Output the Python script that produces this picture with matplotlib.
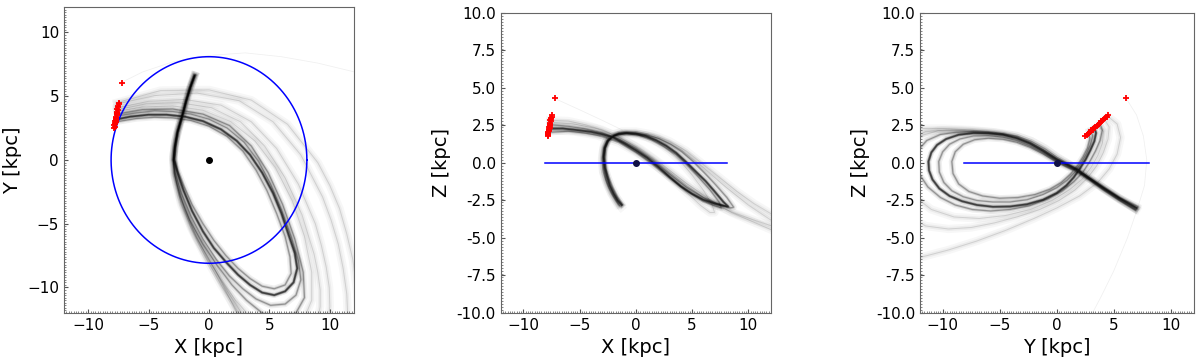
import numpy as np
import matplotlib
matplotlib.use("Agg")
import matplotlib.pyplot as plt
from matplotlib.ticker import MultipleLocator, FormatStrFormatter

# ---------- orbit tracks (kpc) ----------
# X-Y plane
xy_core = [(-7.6,3.2), (-6.5,3.4), (-5.0,3.55), (-3.5,3.55), (-2.0,3.4), (-0.5,3.05), (1.0,2.4),
           (2.3,1.5), (3.4,0.4), (4.4,-1.0), (5.3,-2.6), (6.0,-4.2), (6.6,-5.9), (7.1,-7.3),
           (7.3,-8.5), (7.0,-9.6), (6.3,-10.3), (5.4,-10.6), (4.4,-10.4), (3.4,-9.8), (2.4,-9.0),
           (1.4,-8.0), (0.4,-6.9), (-0.5,-5.6), (-1.4,-4.0), (-2.1,-2.4), (-2.6,-1.0), (-2.9,0.0),
           (-2.8,1.0), (-2.6,2.2), (-2.2,3.5), (-1.9,4.6), (-1.55,5.7), (-1.2,6.6)]
xy_in_a = [(-7.6,3.0), (-6.0,3.25), (-4.5,3.35), (-3.0,3.3), (-1.5,3.1), (0.0,2.65), (1.5,1.85),
           (2.8,0.7), (3.9,-0.8), (4.8,-2.4), (5.6,-4.2), (6.3,-6.0), (6.7,-7.6), (6.8,-8.9),
           (6.3,-9.8), (5.4,-10.1), (4.4,-9.9), (3.4,-9.3), (2.4,-8.5), (1.4,-7.5), (0.4,-6.3),
           (-0.5,-5.0), (-1.4,-3.5), (-2.1,-2.0), (-2.6,-0.8), (-2.85,0.1), (-2.8,1.0), (-2.6,2.2),
           (-2.2,3.5), (-1.9,4.6), (-1.55,5.7), (-1.25,6.5)]
xy_in_b = [(-7.6,3.45), (-6.0,3.7), (-4.5,3.85), (-3.0,3.8), (-1.5,3.6), (0.0,3.2), (1.5,2.5),
           (2.9,1.4), (4.1,-0.1), (5.1,-1.9), (6.0,-3.9), (6.8,-6.0), (7.4,-7.9), (7.6,-9.4),
           (7.2,-10.6), (6.3,-11.3), (5.1,-11.4), (3.9,-10.9), (2.8,-10.1), (1.7,-9.1), (0.6,-7.8),
           (-0.5,-6.2), (-1.5,-4.4), (-2.3,-2.6), (-2.8,-1.0), (-2.95,0.0), (-2.85,1.0), (-2.6,2.2),
           (-2.2,3.5), (-1.9,4.6), (-1.55,5.7), (-1.15,6.7)]
xy_mid_a = [(-7.6,3.6), (-5.5,3.95), (-3.0,4.0), (-0.5,3.6), (1.7,2.7), (3.5,1.1), (4.9,-1.0),
            (6.1,-3.5), (7.1,-6.2), (7.8,-8.8), (7.9,-10.8), (7.2,-12.0), (5.9,-12.4), (4.4,-12.0),
            (3.1,-11.0), (1.9,-9.8), (0.7,-8.3), (-0.5,-6.6), (-1.6,-4.7), (-2.4,-2.8), (-2.85,-1.1),
            (-2.95,0.0), (-2.85,1.0), (-2.6,2.2), (-2.2,3.5), (-1.9,4.6), (-1.55,5.7), (-1.2,6.6)]
xy_out_a = [(-7.6,3.8), (-5.5,4.15), (-3.0,4.25), (-0.5,3.9), (1.8,3.0), (3.8,1.5), (5.5,-0.6),
            (6.9,-3.2), (7.9,-6.0), (8.5,-8.8), (8.5,-11.0), (7.8,-12.6), (6.5,-13.4), (4.9,-13.3),
            (3.5,-12.4), (2.2,-11.0), (1.0,-9.4), (-0.2,-7.6), (-1.3,-5.5), (-2.2,-3.3), (-2.8,-1.3),
            (-2.95,0.0), (-2.85,1.0), (-2.6,2.2), (-2.2,3.5), (-1.9,4.6), (-1.55,5.7), (-1.2,6.6)]
xy_mid_b = [(-7.6,3.95), (-5.2,4.4), (-2.5,4.5), (0.2,4.1), (2.6,3.0), (4.6,1.1), (6.3,-1.4),
            (7.7,-4.3), (8.7,-7.4), (9.0,-8.8), (9.2,-10.2), (9.2,-11.5), (9.0,-12.6), (7.9,-14.3),
            (6.0,-14.6), (4.3,-13.8), (2.9,-12.3), (1.6,-10.4), (0.3,-8.3), (-1.0,-6.1), (-2.0,-3.9),
            (-2.7,-1.8), (-2.95,0.0), (-2.8,1.4), (-2.45,2.8), (-2.05,4.1), (-1.6,5.5), (-1.2,6.6)]
xy_out_b = [(-7.6,4.1), (-5.0,4.6), (-2.0,4.75), (1.0,4.3), (3.5,3.0), (5.6,0.9), (7.4,-1.9),
            (8.8,-5.0), (9.3,-6.7), (9.7,-8.4), (9.95,-10.0), (10.0,-11.5), (9.85,-12.8), (9.4,-14.0),
            (7.6,-15.4), (5.3,-15.2), (3.6,-13.8), (2.3,-11.8), (1.0,-9.8), (-0.3,-7.6), (-1.5,-5.3),
            (-2.4,-3.0), (-2.9,-1.0), (-2.95,0.3), (-2.75,1.6), (-2.4,2.9), (-2.0,4.2), (-1.6,5.5),
            (-1.2,6.6)]
xy_out_c = [(-7.6,4.4), (-4.5,5.05), (-1.0,5.25), (2.5,4.65), (5.3,3.0), (7.6,0.4), (9.4,-2.9),
            (10.1,-4.7), (10.7,-6.6), (11.1,-8.5), (11.4,-10.5), (11.5,-12.5), (11.3,-14.5),
            (9.0,-17.0), (5.5,-16.5), (3.3,-14.0), (2.0,-11.4), (0.5,-8.6), (-1.1,-6.0), (-2.3,-3.5),
            (-2.9,-1.0), (-2.95,0.3), (-2.75,1.6), (-2.4,2.9), (-2.0,4.2), (-1.6,5.5), (-1.2,6.6)]
xy_out_d = [(-7.6,4.5), (-4.0,5.45), (0.0,5.5), (3.5,4.7), (6.5,2.8), (9.0,-0.2), (10.0,-2.0),
            (10.8,-3.8), (11.4,-5.8), (11.9,-7.8), (12.2,-9.9), (12.4,-12.0), (12.3,-16.0)]
xy_stray = [(-7.2,6.1), (-5.5,6.9), (-3.0,7.7), (0.0,8.2), (3.0,8.4), (6.0,8.1), (9.0,7.6), (12.5,6.8)]

# X-Z plane
xz_core = [(-7.6,2.3), (-6.5,2.3), (-5.5,2.22), (-4.0,2.08), (-3.0,1.92), (-2.0,1.7), (-1.0,1.3),
           (0.0,0.85), (1.0,0.35), (2.0,-0.25), (3.0,-0.92), (4.0,-1.55), (5.0,-2.05), (6.0,-2.45),
           (7.0,-2.7), (7.8,-2.85), (8.2,-2.9), (7.8,-2.6), (6.9,-1.8), (6.2,-1.2), (5.4,-0.62),
           (4.5,0.05), (3.6,0.67), (2.7,1.15), (1.8,1.52), (0.9,1.8), (0.0,1.95), (-0.8,2.0),
           (-1.5,1.95), (-2.1,1.75), (-2.5,1.45), (-2.75,1.0), (-2.85,0.4), (-2.75,-0.3),
           (-2.55,-0.9), (-2.3,-1.5), (-1.95,-2.05), (-1.6,-2.5), (-1.25,-2.8)]
xz_in_a = [(-7.6,2.55), (-6.0,2.45), (-4.5,2.28), (-3.0,2.02), (-1.5,1.6), (0.0,0.98), (1.5,0.2),
           (3.0,-0.72), (4.5,-1.6), (6.0,-2.3), (7.2,-2.7), (8.4,-3.0), (8.7,-2.95), (8.1,-2.3),
           (7.1,-1.45), (6.1,-0.65), (5.1,0.1), (4.1,0.75), (3.1,1.25), (2.1,1.62), (1.0,1.88),
           (0.0,2.0), (-1.0,2.02), (-1.9,1.87), (-2.5,1.5), (-2.8,1.0), (-2.9,0.3), (-2.85,-0.4),
           (-2.65,-1.1), (-2.35,-1.7), (-1.95,-2.25), (-1.45,-2.85)]
xz_in_b = [(-7.6,2.05), (-6.0,2.12), (-4.5,2.0), (-3.0,1.8), (-1.5,1.42), (0.0,0.72), (1.5,-0.08),
           (3.0,-1.0), (4.5,-1.85), (6.0,-2.55), (7.0,-2.85), (7.6,-3.0), (7.4,-2.6), (6.6,-1.8),
           (5.6,-0.95), (4.6,-0.15), (3.6,0.55), (2.5,1.1), (1.4,1.55), (0.3,1.85), (-0.8,1.95),
           (-1.8,1.85), (-2.4,1.5), (-2.7,1.0), (-2.75,0.3), (-2.65,-0.4), (-2.4,-1.0),
           (-2.05,-1.65), (-1.65,-2.25), (-1.2,-2.75)]
xz_out_a = [(-7.6,2.85), (-6.0,2.8), (-4.5,2.55), (-3.0,2.22), (-1.5,1.72), (0.0,1.08), (1.5,0.3),
            (3.0,-0.6), (4.5,-1.5), (6.0,-2.3), (7.5,-2.95), (9.0,-3.4), (10.5,-3.8), (12.5,-4.3),
            (13.5,-4.2), (12.5,-3.6), (10.5,-2.7), (9.0,-1.9), (7.5,-1.0), (6.0,-0.1), (4.5,0.8),
            (3.0,1.45), (1.5,1.9), (0.0,2.1), (-1.2,2.1), (-2.1,1.9), (-2.6,1.5), (-2.9,0.9),
            (-3.0,0.2), (-2.9,-0.6), (-2.6,-1.3), (-2.2,-2.0), (-1.7,-2.6), (-1.3,-2.95)]
xz_out_b = [(-7.6,2.7), (-5.5,2.6), (-3.5,2.3), (-1.5,1.75), (0.5,0.9), (2.5,-0.2), (4.5,-1.35),
            (6.5,-2.4), (8.5,-3.3), (10.5,-3.95), (12.5,-4.6), (13.5,-4.6), (12.0,-3.8), (10.0,-2.8),
            (8.0,-1.6), (6.0,-0.3), (4.0,0.9), (2.0,1.65), (0.0,2.0), (-1.5,2.0), (-2.4,1.7),
            (-2.85,1.1), (-3.0,0.3), (-2.9,-0.6), (-2.55,-1.4), (-2.1,-2.1), (-1.6,-2.75)]
xz_out_c = [(-7.6,2.2), (-5.5,2.1), (-3.5,1.85), (-1.5,1.35), (0.5,0.5), (2.5,-0.6), (4.5,-1.95),
            (5.8,-2.85), (6.6,-3.3), (7.0,-3.3), (6.8,-2.8), (6.0,-1.8), (5.0,-0.8), (4.0,0.1),
            (3.0,0.8), (2.0,1.35), (1.0,1.7), (0.0,1.9), (-1.0,1.95), (-2.0,1.8), (-2.6,1.4),
            (-2.85,0.8), (-2.9,0.1), (-2.75,-0.7), (-2.45,-1.4), (-2.0,-2.1), (-1.5,-2.7)]
xz_stray = [(-7.2,4.3), (-5.0,3.55), (-3.0,2.85), (-1.2,2.2)]

# Y-Z plane
yz_core = [(3.3,2.35), (3.45,2.0), (3.3,1.45), (2.95,0.85), (2.55,0.25), (2.05,-0.35), (1.5,-0.95),
           (0.85,-1.5), (0.0,-2.0), (-1.2,-2.45), (-2.6,-2.75), (-4.1,-2.9), (-5.6,-2.92),
           (-7.0,-2.8), (-8.3,-2.55), (-9.4,-2.2), (-10.3,-1.7), (-10.9,-1.1), (-11.2,-0.5),
           (-11.25,0.1), (-11.0,0.7), (-10.5,1.2), (-9.7,1.6), (-8.6,1.88), (-7.3,2.0), (-6.0,1.98),
           (-4.7,1.88), (-3.5,1.65), (-2.35,1.3), (-1.2,0.8), (0.0,0.22), (0.9,-0.12), (1.8,-0.48),
           (2.9,-1.05), (4.1,-1.67), (5.5,-2.35), (7.0,-3.0)]
yz_in_a = [(3.0,2.2), (3.15,1.8), (2.95,1.2), (2.6,0.6), (2.15,0.0), (1.6,-0.6), (0.9,-1.15),
           (0.0,-1.65), (-1.2,-2.1), (-2.6,-2.45), (-4.1,-2.6), (-5.6,-2.6), (-7.0,-2.5),
           (-8.2,-2.25), (-9.2,-1.85), (-9.9,-1.3), (-10.3,-0.6), (-10.35,0.1), (-10.0,0.75),
           (-9.4,1.25), (-8.5,1.6), (-7.3,1.8), (-6.0,1.82), (-4.7,1.72), (-3.5,1.5), (-2.35,1.15),
           (-1.2,0.68), (0.0,0.12), (0.9,-0.22), (1.8,-0.55), (2.9,-1.1), (4.1,-1.75), (5.5,-2.45),
           (6.9,-3.1)]
yz_in_b = [(3.8,2.6), (4.0,2.2), (3.8,1.5), (3.4,0.8), (2.9,0.1), (2.3,-0.6), (1.5,-1.25),
           (0.5,-1.85), (-0.8,-2.4), (-2.4,-2.85), (-4.1,-3.1), (-5.8,-3.2), (-7.4,-3.1),
           (-8.9,-2.8), (-10.2,-2.3), (-11.3,-1.6), (-12.0,-0.8), (-12.3,0.1), (-12.1,0.9),
           (-11.4,1.5), (-10.2,1.9), (-8.8,2.05), (-7.3,2.1), (-6.0,2.05), (-4.7,1.95), (-3.5,1.75),
           (-2.35,1.4), (-1.2,0.9), (0.0,0.3), (0.9,-0.05), (1.8,-0.4), (2.9,-1.0), (4.1,-1.6),
           (5.5,-2.3), (7.1,-2.9)]
yz_in_c = [(2.8,2.1), (2.9,1.6), (2.7,1.0), (2.3,0.4), (1.8,-0.2), (1.2,-0.75), (0.4,-1.3),
           (-0.6,-1.75), (-1.9,-2.1), (-3.4,-2.3), (-5.0,-2.35), (-6.5,-2.2), (-7.7,-1.9),
           (-8.6,-1.4), (-9.1,-0.7), (-9.2,0.1), (-8.9,0.75), (-8.2,1.25), (-7.2,1.55), (-6.0,1.65),
           (-4.7,1.58), (-3.5,1.38), (-2.35,1.05), (-1.2,0.6), (0.0,0.05), (0.9,-0.28), (1.8,-0.6),
           (2.9,-1.15), (4.1,-1.8), (5.5,-2.5), (6.9,-3.15)]
yz_out_a = [(4.2,2.9), (4.6,2.4), (4.5,1.6), (4.1,0.7), (3.5,-0.2), (2.7,-1.0), (1.6,-1.8),
            (0.2,-2.5), (-1.5,-3.1), (-3.5,-3.6), (-5.5,-4.0), (-7.5,-4.3), (-9.5,-4.4),
            (-11.5,-4.2), (-13.0,-3.5), (-14.0,-2.0), (-14.0,0.0), (-13.0,1.5), (-11.5,2.1),
            (-9.5,2.2), (-7.5,2.15), (-5.5,2.05), (-3.5,1.8), (-2.2,1.45), (-1.0,0.95), (0.0,0.4),
            (1.0,-0.05), (2.0,-0.5), (3.0,-1.05), (4.2,-1.7), (5.6,-2.4), (7.0,-3.0)]
yz_out_b = [(4.5,3.1), (5.3,2.6), (5.6,1.7), (5.3,0.6), (4.6,-0.4), (3.6,-1.3), (2.0,-2.2),
            (0.0,-3.0), (-2.0,-3.7), (-4.5,-4.5), (-7.0,-5.2), (-9.5,-5.8), (-12.0,-6.3),
            (-14.5,-6.0), (-16.0,-3.0), (-15.0,1.0), (-12.5,2.3), (-10.0,2.3), (-7.5,2.2),
            (-5.5,2.05), (-3.5,1.8), (-2.2,1.45), (-1.0,0.95), (0.0,0.4), (1.0,-0.05), (2.0,-0.5),
            (3.0,-1.05), (4.2,-1.7), (5.6,-2.4), (6.9,-3.05)]
yz_out_c = [(3.6,2.5), (4.1,2.1), (4.0,1.3), (3.6,0.5), (3.0,-0.3), (2.2,-1.1), (1.1,-1.8),
            (-0.4,-2.5), (-2.3,-3.1), (-4.5,-3.5), (-6.8,-3.7), (-9.0,-3.6), (-11.0,-3.1),
            (-12.5,-2.2), (-13.3,-0.8), (-13.0,0.8), (-12.0,1.8), (-10.4,2.15), (-8.5,2.15),
            (-6.5,2.05), (-4.7,1.9), (-3.4,1.65), (-2.2,1.3), (-1.0,0.8), (0.0,0.3), (1.0,-0.1),
            (2.0,-0.55), (3.0,-1.1), (4.2,-1.75), (5.6,-2.45), (7.0,-3.1)]
yz_stray = [(6.1,4.3), (7.0,3.2), (7.6,1.8), (7.9,0.2), (7.7,-1.5), (7.1,-3.0), (6.2,-5.0),
            (5.0,-7.2), (3.9,-8.9), (3.0,-10.2)]

# starting positions (red crosses)
start_x = [-7.83, -7.80, -7.82, -7.76, -7.79, -7.73, -7.75, -7.70, -7.72, -7.66, -7.68,
           -7.63, -7.65, -7.60, -7.62, -7.56, -7.58, -7.53, -7.50, -7.47, -7.42, -7.17]
start_y = [2.50, 2.62, 2.71, 2.80, 2.88, 2.97, 3.05, 3.14, 3.22, 3.31, 3.40,
           3.50, 3.60, 3.70, 3.80, 3.92, 4.02, 4.13, 4.25, 4.37, 4.50, 6.05]
start_z = [1.80, 1.88, 1.93, 2.00, 2.05, 2.12, 2.17, 2.23, 2.29, 2.35, 2.41,
           2.49, 2.55, 2.62, 2.69, 2.78, 2.84, 2.92, 3.00, 3.09, 3.20, 4.35]

R_SUN = 8.1

plt.rcParams['font.family'] = 'DejaVu Sans'
fig = plt.figure(figsize=(12, 3.6), dpi=100)
ax1 = fig.add_axes([0.0533, 0.1306, 0.2417, 0.85])
ax2 = fig.add_axes([0.4173, 0.1306, 0.2250, 0.8333])
ax3 = fig.add_axes([0.7666, 0.1306, 0.2280, 0.8333])


def soft_line(ax, tr, widths, alphas):
    a = np.array(tr)
    for w, al in zip(widths, alphas):
        ax.plot(a[:, 0], a[:, 1], color='k', lw=w, alpha=al, solid_joinstyle='round')


def draw_tracks(ax, core, inner, outer, stray):
    for tr in outer:
        soft_line(ax, tr, [6, 3, 0.7], [0.03, 0.045, 0.12])
    for tr in inner:
        soft_line(ax, tr, [4.5, 2.2, 0.9], [0.06, 0.12, 0.3])
    soft_line(ax, core, [4, 2.2, 1.2], [0.1, 0.3, 0.6])
    soft_line(ax, stray, [0.6], [0.06])


# X-Y
draw_tracks(ax1, xy_core, [xy_in_a, xy_in_b, xy_mid_a],
            [xy_out_a, xy_mid_b, xy_out_b, xy_out_c, xy_out_d], xy_stray)
theta = np.linspace(0, 2 * np.pi, 300)
ax1.plot(R_SUN * np.cos(theta), R_SUN * np.sin(theta), color='blue', lw=1.1)
ax1.plot(start_x, start_y, '+', color='red', ms=5, mew=1.3)
ax1.plot([0], [0], 'o', color='k', ms=4)
ax1.set_xlim(-12, 12)
ax1.set_ylim(-12, 12)
ax1.set_xticks([-10, -5, 0, 5, 10])
ax1.set_yticks([-10, -5, 0, 5, 10])
ax1.set_xlabel('X [kpc]')
ax1.set_ylabel('Y [kpc]')

# X-Z
draw_tracks(ax2, xz_core, [xz_in_a, xz_in_b], [xz_out_a, xz_out_b, xz_out_c], xz_stray)
ax2.plot([-R_SUN, R_SUN], [0, 0], color='blue', lw=1.1)
ax2.plot(start_x, start_z, '+', color='red', ms=5, mew=1.3)
ax2.plot([0], [0], 'o', color='#111144', ms=4)
ax2.set_xlim(-12, 12)
ax2.set_ylim(-10, 10)
ax2.set_xlabel('X [kpc]')
ax2.set_ylabel('Z [kpc]')

# Y-Z
draw_tracks(ax3, yz_core, [yz_in_a, yz_in_b, yz_in_c], [yz_out_a, yz_out_b, yz_out_c], yz_stray)
ax3.plot([-R_SUN, R_SUN], [0, 0], color='blue', lw=1.1)
ax3.plot(start_y, start_z, '+', color='red', ms=5, mew=1.3)
ax3.plot([0], [0], 'o', color='#111144', ms=4)
ax3.set_xlim(-12, 12)
ax3.set_ylim(-10, 10)
ax3.set_xlabel('Y [kpc]')
ax3.set_ylabel('Z [kpc]')

for ax in (ax2, ax3):
    ax.set_xticks([-10, -5, 0, 5, 10])
    ax.set_yticks([-10, -7.5, -5, -2.5, 0, 2.5, 5, 7.5, 10])
    ax.yaxis.set_major_formatter(FormatStrFormatter('%.1f'))

for ax in (ax1, ax2, ax3):
    ax.xaxis.set_minor_locator(MultipleLocator(0.2))
    ax.yaxis.set_minor_locator(MultipleLocator(0.2))
    ax.tick_params(which='both', direction='in', labelsize=11, color='#555555')
    ax.tick_params(which='major', length=3)
    ax.tick_params(which='minor', length=1.5, width=0.5)
    ax.xaxis.label.set_size(14)
    ax.yaxis.label.set_size(14)
    for s in ax.spines.values():
        s.set_color('#666666')
        s.set_linewidth(0.8)

fig.savefig('out.png', dpi=100)
